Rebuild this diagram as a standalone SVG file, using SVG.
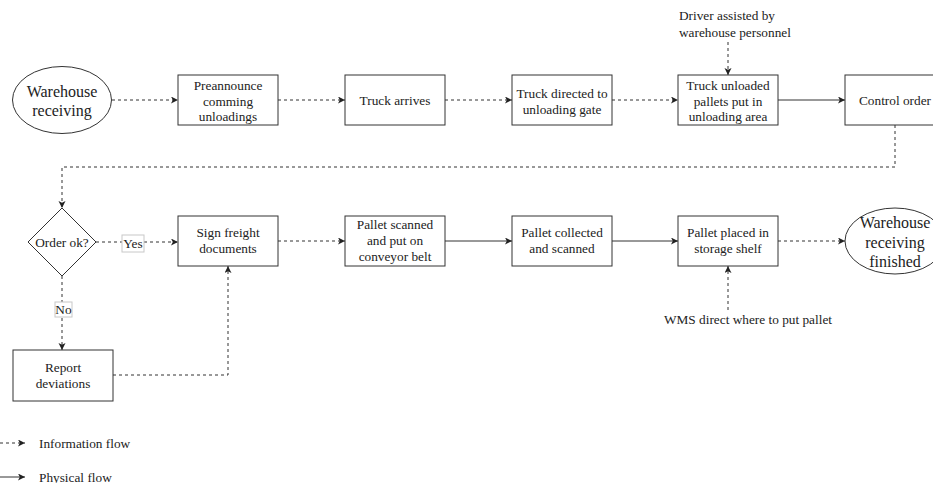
<svg xmlns="http://www.w3.org/2000/svg" width="933" height="483" viewBox="0 0 933 483">
  <style>
    .box { fill: #ffffff; stroke: #333333; stroke-width: 1; }
    .t { font-family: "Liberation Serif", "Times New Roman", serif; font-size: 13.3px; fill: #222222; text-anchor: middle; }
    .tl { font-family: "Liberation Serif", "Times New Roman", serif; font-size: 13.3px; fill: #222222; }
    .big { font-family: "Liberation Serif", "Times New Roman", serif; font-size: 16px; fill: #222222; text-anchor: middle; }
    .info { fill: none; stroke: #333333; stroke-width: 1; stroke-dasharray: 3 3; marker-end: url(#arrow); }
    .phys { fill: none; stroke: #333333; stroke-width: 1; marker-end: url(#arrow); }
    .lbl { fill: #ffffff; stroke: #c8c8c8; stroke-width: 1; }
  </style>
  <defs>
    <marker id="arrow" markerUnits="userSpaceOnUse" markerWidth="8" markerHeight="8" refX="7" refY="3.5" orient="auto">
      <path d="M0,0 L7,3.5 L0,7 L1.8,3.5 Z" fill="#222222"/>
    </marker>
  </defs>
  <rect width="933" height="483" fill="#ffffff"/>

  <!-- connectors -->
  <g id="connectors">
    <path class="info" d="M112,100 H178"/>
    <path class="info" d="M278,100 H345"/>
    <path class="info" d="M445,100 H512"/>
    <path class="info" d="M612,100 H678"/>
    <path class="phys" d="M778,100 H845"/>
    <path class="info" d="M728,42 V75"/>
    <path class="info" d="M895,125 V167 H62 V208"/>
    <path class="info" d="M96,242 H178"/>
    <path class="info" d="M62,276 V350"/>
    <path class="info" d="M113,375 H228 V266"/>
    <path class="info" d="M278,241 H345"/>
    <path class="phys" d="M445,241 H512"/>
    <path class="phys" d="M612,241 H678"/>
    <path class="info" d="M778,241 H845"/>
    <path class="info" d="M728,310 V266"/>
    <!-- edge labels -->
    <rect class="lbl" x="122" y="235" width="22" height="17"/>
    <text class="t" x="133" y="247.5">Yes</text>
    <rect class="lbl" x="55" y="302" width="17" height="15"/>
    <text class="t" x="63.5" y="314">No</text>
  </g>

  <!-- top row -->
  <g id="start">
    <ellipse class="box" cx="62" cy="100" rx="49.5" ry="33.5"/>
    <text class="big" x="62" y="97">Warehouse</text>
    <text class="big" x="62" y="116">receiving</text>
  </g>
  <g id="preannounce">
    <rect class="box" x="178" y="75" width="100" height="50"/>
    <text class="t" x="228" y="90">Preannounce</text>
    <text class="t" x="228" y="106">comming</text>
    <text class="t" x="228" y="121">unloadings</text>
  </g>
  <g id="truck-arrives">
    <rect class="box" x="345" y="75" width="100" height="50"/>
    <text class="t" x="395" y="105">Truck arrives</text>
  </g>
  <g id="truck-directed">
    <rect class="box" x="512" y="75" width="100" height="50"/>
    <text class="t" x="562" y="98">Truck directed to</text>
    <text class="t" x="562" y="113.5">unloading gate</text>
  </g>
  <g id="truck-unloaded">
    <rect class="box" x="678" y="75" width="100" height="50"/>
    <text class="t" x="728" y="90">Truck unloaded</text>
    <text class="t" x="728" y="106">pallets put in</text>
    <text class="t" x="728" y="121">unloading area</text>
  </g>
  <g id="driver-note">
    <text class="tl" x="679" y="20">Driver assisted by</text>
    <text class="tl" x="679" y="37">warehouse personnel</text>
  </g>
  <g id="control-order">
    <rect class="box" x="845" y="75" width="100" height="50"/>
    <text class="t" x="895" y="105">Control order</text>
  </g>

  <!-- second row -->
  <g id="order-ok">
    <path class="box" d="M62,208 L96,242 L62,276 L28,242 Z"/>
    <text class="t" x="62" y="246.5">Order ok?</text>
  </g>
  <g id="sign-freight">
    <rect class="box" x="178" y="216" width="100" height="50"/>
    <text class="t" x="228" y="237">Sign freight</text>
    <text class="t" x="228" y="253">documents</text>
  </g>
  <g id="pallet-scanned">
    <rect class="box" x="345" y="216" width="100" height="50"/>
    <text class="t" x="395" y="228.5">Pallet scanned</text>
    <text class="t" x="395" y="245">and put on</text>
    <text class="t" x="395" y="261">conveyor belt</text>
  </g>
  <g id="pallet-collected">
    <rect class="box" x="512" y="216" width="100" height="50"/>
    <text class="t" x="562" y="237">Pallet collected</text>
    <text class="t" x="562" y="253">and scanned</text>
  </g>
  <g id="pallet-placed">
    <rect class="box" x="678" y="216" width="100" height="50"/>
    <text class="t" x="728" y="237">Pallet placed in</text>
    <text class="t" x="728" y="253">storage shelf</text>
  </g>
  <g id="wms-note">
    <text class="t" x="748" y="324">WMS direct where to put pallet</text>
  </g>
  <g id="finished">
    <ellipse class="box" cx="895" cy="241" rx="50" ry="33"/>
    <text class="big" x="895" y="228">Warehouse</text>
    <text class="big" x="895" y="247.5">receiving</text>
    <text class="big" x="895" y="267">finished</text>
  </g>
  <g id="report-deviations">
    <rect class="box" x="13" y="350" width="100" height="51"/>
    <text class="t" x="63" y="372">Report</text>
    <text class="t" x="63" y="388">deviations</text>
  </g>

  <!-- legend -->
  <g id="legend">
    <path class="info" d="M0,443 H25"/>
    <text class="tl" x="39" y="447.5">Information flow</text>
    <path class="phys" d="M0,477 H25"/>
    <text class="tl" x="39" y="481.5">Physical flow</text>
  </g>
</svg>
